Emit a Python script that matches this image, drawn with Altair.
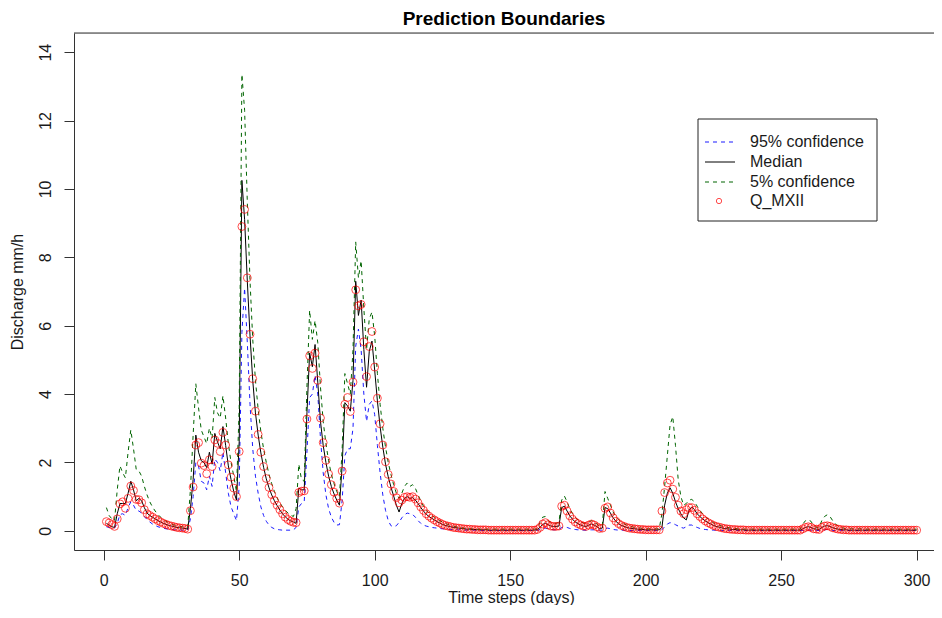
import altair as alt
import pandas as pd

title_text = "Prediction Boundaries"
x_title = "Time steps (days)"
y_title = "Discharge mm/h"
legend_labels = ["95% confidence", "Median", "5% confidence", "Q_MXII"]
x_ticks = [0, 50, 100, 150, 200, 250, 300]
y_ticks = [0, 2, 4, 6, 8, 10, 12, 14]

days = list(range(1, 301))

q_obs = [
    0.27, 0.23, 0.18, 0.13, 0.35, 0.79, 0.85, 0.66, 0.95, 1.31,
    1.18, 0.92, 0.91, 0.82, 0.62, 0.50, 0.45, 0.40, 0.35, 0.30,
    0.26, 0.22, 0.19, 0.16, 0.14, 0.12, 0.10, 0.09, 0.08, 0.07,
    0.05, 0.59, 1.28, 2.51, 2.58, 1.98, 1.91, 1.67, 2.08, 1.88,
    2.66, 2.56, 2.32, 2.88, 2.51, 1.93, 1.57, 1.25, 1.00, 2.32,
    8.90, 9.40, 7.40, 5.75, 4.45, 3.50, 2.82, 2.30, 1.88, 1.53,
    1.27, 1.06, 0.89, 0.75, 0.62, 0.50, 0.40, 0.33, 0.28, 0.25,
    0.24, 1.12, 1.16, 1.17, 3.27, 5.12, 4.75, 5.20, 4.40, 3.30,
    2.58, 2.06, 1.66, 1.35, 1.13, 0.95, 0.81, 1.75, 3.70, 3.90,
    3.49, 4.35, 7.05, 6.58, 6.62, 5.53, 4.51, 5.39, 5.83, 4.79,
    3.88, 3.13, 2.51, 2.02, 1.65, 1.37, 1.15, 0.97, 0.82, 0.90,
    0.98, 1.00, 0.98, 1.00, 0.93, 0.82, 0.70, 0.60, 0.50, 0.43,
    0.37, 0.32, 0.27, 0.23, 0.19, 0.16, 0.14, 0.12, 0.10, 0.09,
    0.08, 0.07, 0.06, 0.05, 0.05, 0.04, 0.04, 0.03, 0.03, 0.03,
    0.03, 0.02, 0.02, 0.02, 0.02, 0.02, 0.02, 0.02, 0.02, 0.02,
    0.02, 0.02, 0.02, 0.02, 0.02, 0.02, 0.02, 0.02, 0.02, 0.04,
    0.10, 0.20, 0.24, 0.18, 0.14, 0.13, 0.13, 0.14, 0.72, 0.75,
    0.58, 0.44, 0.34, 0.26, 0.21, 0.17, 0.14, 0.13, 0.17, 0.20,
    0.17, 0.12, 0.07, 0.08, 0.66, 0.70, 0.52, 0.38, 0.28, 0.21,
    0.16, 0.13, 0.10, 0.08, 0.07, 0.06, 0.05, 0.04, 0.04, 0.03,
    0.03, 0.03, 0.03, 0.03, 0.03, 0.58, 1.12, 1.40, 1.48, 1.22,
    0.98, 0.75, 0.58, 0.50, 0.62, 0.68, 0.68, 0.60, 0.50, 0.42,
    0.35, 0.29, 0.24, 0.20, 0.16, 0.13, 0.11, 0.09, 0.07, 0.06,
    0.05, 0.04, 0.04, 0.03, 0.03, 0.03, 0.02, 0.02, 0.02, 0.02,
    0.02, 0.02, 0.02, 0.02, 0.02, 0.02, 0.02, 0.02, 0.02, 0.02,
    0.02, 0.02, 0.02, 0.02, 0.02, 0.02, 0.02, 0.06, 0.10, 0.12,
    0.10, 0.06, 0.05, 0.04, 0.10, 0.14, 0.15, 0.13, 0.09, 0.07,
    0.05, 0.04, 0.03, 0.03, 0.02, 0.02, 0.02, 0.02, 0.02, 0.02,
    0.02, 0.02, 0.02, 0.02, 0.02, 0.02, 0.02, 0.02, 0.02, 0.02,
    0.02, 0.02, 0.02, 0.02, 0.02, 0.02, 0.02, 0.02, 0.02, 0.02,
]

median = [
    0.22, 0.17, 0.12, 0.10, 0.50, 0.80, 0.80, 0.80, 1.10, 1.45,
    1.20, 0.88, 0.95, 0.88, 0.68, 0.52, 0.45, 0.40, 0.35, 0.30,
    0.26, 0.22, 0.19, 0.16, 0.14, 0.12, 0.10, 0.09, 0.08, 0.07,
    0.05, 0.65, 1.50, 2.80, 2.30, 2.05, 2.00, 1.85, 2.30, 1.95,
    2.85, 2.60, 2.40, 3.05, 2.50, 1.90, 1.50, 1.15, 0.90, 2.60,
    10.25, 9.10, 7.30, 5.70, 4.40, 3.45, 2.80, 2.28, 1.86, 1.52,
    1.26, 1.05, 0.88, 0.74, 0.61, 0.50, 0.41, 0.34, 0.29, 0.26,
    0.22, 1.25, 1.20, 1.20, 3.45, 5.20, 4.80, 5.45, 4.35, 3.20,
    2.50, 2.00, 1.60, 1.30, 1.08, 0.90, 0.75, 1.90, 3.75, 3.65,
    3.50, 4.40, 7.30, 6.30, 6.75, 5.30, 4.20, 5.25, 5.55, 4.70,
    3.80, 3.05, 2.45, 1.95, 1.58, 1.28, 1.02, 0.75, 0.55, 0.80,
    0.95, 1.00, 0.95, 0.97, 0.90, 0.80, 0.68, 0.58, 0.49, 0.42,
    0.37, 0.32, 0.27, 0.23, 0.19, 0.16, 0.14, 0.12, 0.10, 0.09,
    0.08, 0.07, 0.06, 0.05, 0.05, 0.04, 0.04, 0.03, 0.03, 0.03,
    0.03, 0.02, 0.02, 0.02, 0.02, 0.02, 0.02, 0.02, 0.02, 0.02,
    0.02, 0.02, 0.02, 0.02, 0.02, 0.02, 0.02, 0.02, 0.02, 0.04,
    0.10, 0.19, 0.22, 0.18, 0.14, 0.13, 0.13, 0.14, 0.68, 0.72,
    0.58, 0.44, 0.34, 0.26, 0.21, 0.17, 0.14, 0.13, 0.17, 0.20,
    0.17, 0.12, 0.07, 0.08, 0.68, 0.65, 0.52, 0.38, 0.28, 0.21,
    0.16, 0.13, 0.10, 0.08, 0.07, 0.06, 0.05, 0.04, 0.04, 0.03,
    0.03, 0.03, 0.03, 0.03, 0.03, 0.10, 0.75, 1.10, 1.26, 1.10,
    0.85, 0.65, 0.50, 0.38, 0.32, 0.60, 0.70, 0.62, 0.50, 0.42,
    0.35, 0.29, 0.24, 0.20, 0.16, 0.13, 0.11, 0.09, 0.07, 0.06,
    0.05, 0.04, 0.04, 0.03, 0.03, 0.03, 0.02, 0.02, 0.02, 0.02,
    0.02, 0.02, 0.02, 0.02, 0.02, 0.02, 0.02, 0.02, 0.02, 0.02,
    0.02, 0.02, 0.02, 0.02, 0.02, 0.02, 0.02, 0.06, 0.10, 0.12,
    0.10, 0.06, 0.05, 0.04, 0.10, 0.14, 0.15, 0.13, 0.09, 0.07,
    0.05, 0.04, 0.03, 0.03, 0.02, 0.02, 0.02, 0.02, 0.02, 0.02,
    0.02, 0.02, 0.02, 0.02, 0.02, 0.02, 0.02, 0.02, 0.02, 0.02,
    0.02, 0.02, 0.02, 0.02, 0.02, 0.02, 0.02, 0.02, 0.02, 0.02,
]

lower95 = [
    0.12, 0.10, 0.08, 0.08, 0.22, 0.48, 0.50, 0.45, 0.68, 0.85,
    0.75, 0.60, 0.58, 0.52, 0.42, 0.33, 0.26, 0.20, 0.16, 0.12,
    0.10, 0.08, 0.06, 0.05, 0.04, 0.03, 0.03, 0.03, 0.02, 0.02,
    0.02, 0.35, 1.00, 2.00, 1.90, 1.45, 1.40, 1.20, 1.60, 1.30,
    2.10, 2.00, 1.75, 2.30, 1.70, 1.10, 0.70, 0.50, 0.30, 1.30,
    5.80, 7.10, 5.50, 3.70, 2.40, 1.60, 1.10, 0.70, 0.45, 0.28,
    0.17, 0.10, 0.06, 0.04, 0.03, 0.02, 0.02, 0.02, 0.02, 0.03,
    0.10, 0.70, 0.80, 0.85, 2.30, 3.90, 4.00, 4.55, 4.00, 2.70,
    1.70, 1.05, 0.65, 0.40, 0.25, 0.17, 0.18, 0.90, 2.20, 2.40,
    2.40, 3.00, 5.40, 5.90, 5.30, 4.00, 3.20, 3.70, 3.80, 3.40,
    2.50, 1.70, 1.05, 0.60, 0.30, 0.15, 0.12, 0.15, 0.25, 0.38,
    0.47, 0.52, 0.50, 0.48, 0.40, 0.30, 0.22, 0.17, 0.14, 0.12,
    0.10, 0.09, 0.08, 0.07, 0.06, 0.05, 0.05, 0.04, 0.04, 0.03,
    0.03, 0.03, 0.02, 0.02, 0.02, 0.02, 0.02, 0.01, 0.01, 0.01,
    0.01, 0.01, 0.01, 0.01, 0.01, 0.01, 0.01, 0.01, 0.01, 0.01,
    0.01, 0.01, 0.01, 0.01, 0.01, 0.01, 0.01, 0.01, 0.01, 0.01,
    0.04, 0.07, 0.08, 0.06, 0.04, 0.03, 0.03, 0.04, 0.10, 0.12,
    0.10, 0.07, 0.05, 0.04, 0.03, 0.03, 0.02, 0.02, 0.03, 0.03,
    0.03, 0.02, 0.02, 0.02, 0.07, 0.08, 0.06, 0.04, 0.03, 0.02,
    0.02, 0.02, 0.01, 0.01, 0.01, 0.01, 0.01, 0.01, 0.01, 0.01,
    0.01, 0.01, 0.01, 0.01, 0.01, 0.03, 0.12, 0.20, 0.24, 0.22,
    0.18, 0.14, 0.10, 0.08, 0.12, 0.17, 0.17, 0.13, 0.10, 0.07,
    0.05, 0.04, 0.03, 0.03, 0.02, 0.02, 0.02, 0.01, 0.01, 0.01,
    0.01, 0.01, 0.01, 0.01, 0.01, 0.01, 0.01, 0.01, 0.01, 0.01,
    0.01, 0.01, 0.01, 0.01, 0.01, 0.01, 0.01, 0.01, 0.01, 0.01,
    0.01, 0.01, 0.01, 0.01, 0.01, 0.01, 0.01, 0.01, 0.02, 0.03,
    0.02, 0.01, 0.01, 0.01, 0.01, 0.03, 0.04, 0.03, 0.01, 0.01,
    0.01, 0.01, 0.01, 0.01, 0.01, 0.01, 0.01, 0.01, 0.01, 0.01,
    0.01, 0.01, 0.01, 0.01, 0.01, 0.01, 0.01, 0.01, 0.01, 0.01,
    0.01, 0.01, 0.01, 0.01, 0.01, 0.01, 0.01, 0.01, 0.01, 0.01,
]

upper5 = [
    0.68, 0.45, 0.35, 0.30, 1.20, 1.90, 1.70, 1.55, 2.30, 2.95,
    2.40, 1.80, 1.75, 1.60, 1.30, 1.05, 0.85, 0.70, 0.58, 0.48,
    0.40, 0.33, 0.28, 0.24, 0.20, 0.17, 0.15, 0.13, 0.12, 0.11,
    0.10, 1.20, 2.80, 4.30, 3.60, 2.95, 2.75, 2.55, 3.00, 2.70,
    3.90, 3.45, 3.30, 3.95, 3.30, 2.55, 2.00, 1.60, 1.15, 3.60,
    13.35, 12.30, 9.60, 7.30, 5.60, 4.40, 3.55, 2.90, 2.40, 2.00,
    1.65, 1.38, 1.15, 0.96, 0.82, 0.70, 0.60, 0.52, 0.46, 0.42,
    0.65, 1.95, 1.50, 1.45, 4.20, 6.45, 5.60, 6.15, 5.50, 4.20,
    3.20, 2.55, 2.05, 1.65, 1.38, 1.15, 1.00, 2.40, 4.60, 4.30,
    4.00, 5.30, 8.45, 7.40, 7.90, 6.50, 5.30, 6.20, 6.40, 5.70,
    4.60, 3.70, 3.00, 2.45, 2.00, 1.65, 1.35, 1.10, 0.95, 1.10,
    1.30, 1.40, 1.30, 1.35, 1.25, 1.05, 0.88, 0.72, 0.60, 0.52,
    0.45, 0.40, 0.35, 0.30, 0.26, 0.22, 0.19, 0.16, 0.14, 0.12,
    0.10, 0.09, 0.08, 0.07, 0.06, 0.06, 0.05, 0.05, 0.05, 0.05,
    0.05, 0.05, 0.05, 0.05, 0.05, 0.05, 0.05, 0.05, 0.05, 0.05,
    0.05, 0.05, 0.05, 0.05, 0.05, 0.05, 0.05, 0.05, 0.05, 0.06,
    0.25, 0.40, 0.42, 0.30, 0.25, 0.22, 0.22, 0.25, 0.90, 1.02,
    0.85, 0.65, 0.50, 0.40, 0.32, 0.27, 0.23, 0.21, 0.25, 0.30,
    0.27, 0.20, 0.12, 0.15, 1.15, 0.95, 0.75, 0.55, 0.42, 0.33,
    0.26, 0.21, 0.17, 0.14, 0.12, 0.10, 0.09, 0.08, 0.07, 0.06,
    0.06, 0.06, 0.06, 0.06, 0.06, 0.50, 1.30, 2.20, 3.10, 3.34,
    2.50, 1.50, 1.00, 0.75, 0.80, 0.90, 0.92, 0.85, 0.72, 0.60,
    0.50, 0.42, 0.35, 0.29, 0.24, 0.20, 0.17, 0.14, 0.12, 0.10,
    0.09, 0.08, 0.07, 0.06, 0.05, 0.05, 0.05, 0.05, 0.05, 0.05,
    0.05, 0.05, 0.05, 0.05, 0.05, 0.05, 0.05, 0.05, 0.05, 0.05,
    0.05, 0.05, 0.05, 0.05, 0.05, 0.05, 0.05, 0.20, 0.30, 0.32,
    0.28, 0.15, 0.10, 0.10, 0.30, 0.42, 0.47, 0.42, 0.30, 0.20,
    0.14, 0.10, 0.08, 0.06, 0.06, 0.06, 0.06, 0.06, 0.06, 0.06,
    0.05, 0.05, 0.05, 0.05, 0.05, 0.05, 0.05, 0.05, 0.05, 0.05,
    0.05, 0.05, 0.05, 0.05, 0.05, 0.05, 0.05, 0.05, 0.05, 0.05,
]

df = pd.DataFrame({
    "day": days,
    "obs": q_obs,
    "median": median,
    "lower": lower95,
    "upper": upper5,
})

W, H = 860, 517
FONT = "Liberation Sans"
BOX = "#333333"

# R-style extended ranges (4% beyond the data range); right side runs off the page
xscale = alt.Scale(domain=[-10.96, 306.4], nice=False, zero=False)
yscale = alt.Scale(domain=[-0.56, 14.56], nice=False, zero=False)

xaxis = alt.Axis(
    values=x_ticks, title=x_title, grid=False,
    domain=True, domainColor=BOX, domainWidth=1,
    tickSize=10, tickColor=BOX, labelPadding=12, labelFontSize=16,
    labelColor="#1a1a1a", labelFont=FONT, format="d",
    titleFontSize=16, titleFontWeight="normal", titleFont=FONT, titleColor="#1a1a1a",
    titleX=437, titleY=52, titleBaseline="alphabetic", titleAlign="center",
)
yaxis = alt.Axis(
    values=y_ticks, title=y_title, grid=False,
    domain=True, domainColor=BOX, domainWidth=1,
    tickSize=10, tickColor=BOX, labelPadding=11, labelFontSize=16,
    labelColor="#1a1a1a", labelFont=FONT, labelAngle=270,
    labelAlign="center", labelBaseline="bottom", format="d",
    titleFontSize=16, titleFontWeight="normal", titleFont=FONT, titleColor="#1a1a1a",
    titleAngle=270, titleX=-51.5, titleY=258.5, titleBaseline="alphabetic",
    titleAlign="center",
)

base = alt.Chart(df)


def xenc():
    return alt.X("day:Q", scale=xscale, axis=xaxis, title=x_title)


def yenc(field):
    return alt.Y(f"{field}:Q", scale=yscale, axis=yaxis, title=y_title)


blue_line = base.mark_line(color="#1a1aff", strokeWidth=1, strokeDash=[4, 4]).encode(
    x=xenc(), y=yenc("lower"))
black_line = base.mark_line(color="#000000", strokeWidth=1).encode(
    x=xenc(), y=yenc("median"))
green_line = base.mark_line(color="#006400", strokeWidth=1, strokeDash=[4, 4]).encode(
    x=xenc(), y=yenc("upper"))
points = base.mark_point(shape="circle", filled=False, color="#ff0000", size=62,
                         strokeWidth=1).encode(x=xenc(), y=yenc("obs"))

# top edge of the plot box
top_border = alt.Chart(pd.DataFrame({"k": [0]})).mark_rule(color=BOX, strokeWidth=1).encode(
    x=alt.value(0), x2=alt.value(W), y=alt.value(0))

# Legend (drawn by hand, R style)
leg_rows = [109, 129, 149, 168]
leg_box = alt.Chart(pd.DataFrame({"k": [0]})).mark_rect(
    fill="white", stroke="#222222", strokeWidth=1
).encode(x=alt.value(624), x2=alt.value(803), y=alt.value(86), y2=alt.value(188))

legend_layers = [leg_box]
sample_styles = [
    {"color": "#1a1aff", "strokeDash": [4, 4]},
    {"color": "#000000"},
    {"color": "#006400", "strokeDash": [4, 4]},
]
for i, lab in enumerate(legend_labels):
    ldf = pd.DataFrame({"label": [lab]})
    legend_layers.append(
        alt.Chart(ldf).mark_text(align="left", baseline="middle", fontSize=16,
                                 font=FONT, color="#1a1a1a").encode(
            text="label:N", x=alt.value(676), y=alt.value(leg_rows[i]))
    )
    if i < 3:
        legend_layers.append(
            alt.Chart(ldf).mark_rule(strokeWidth=1, **sample_styles[i]).encode(
                x=alt.value(631), x2=alt.value(661), y=alt.value(leg_rows[i]))
        )
    else:
        legend_layers.append(
            alt.Chart(ldf).mark_point(shape="circle", filled=False, color="#ff0000",
                                      size=28, strokeWidth=1).encode(
                x=alt.value(645), y=alt.value(leg_rows[i]))
        )

chart = alt.layer(
    blue_line, black_line, green_line, points, top_border, *legend_layers
).properties(
    width=W,
    height=H,
    title=alt.TitleParams(title_text, fontSize=19, fontWeight="bold", font=FONT,
                          color="#000000", anchor="middle", frame="group",
                          baseline="alphabetic", offset=10, dy=21),
    autosize=alt.AutoSizeParams(type="none"),
    padding={"left": 66, "top": 25, "right": 0, "bottom": 55},
).configure_view(
    stroke="transparent"
).configure_axisY(
    labelAngle=270, labelAlign="center", labelBaseline="bottom"
).configure(font=FONT, background="white")

chart.save("out.html", embed_options={"renderer": "svg", "actions": False})
